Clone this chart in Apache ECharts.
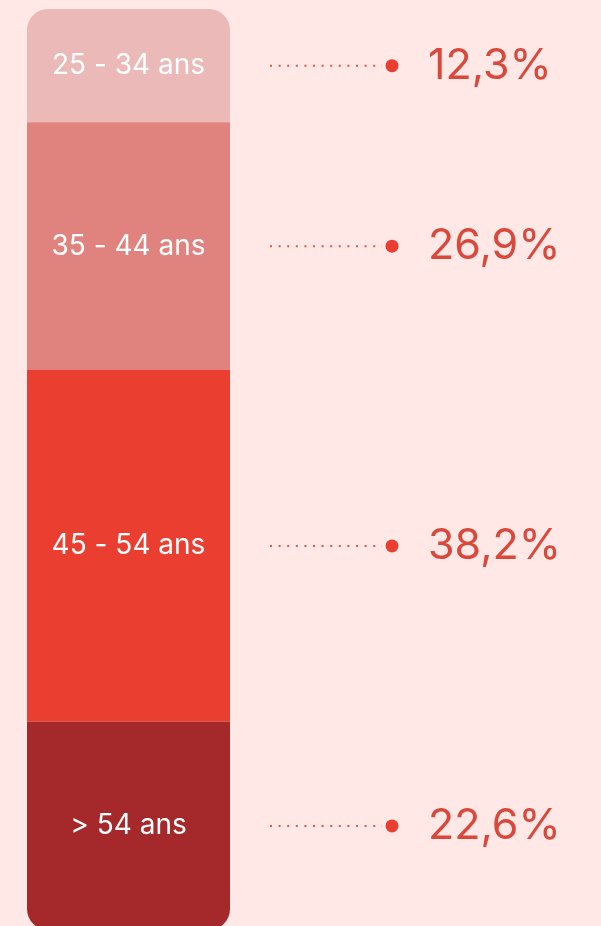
<!DOCTYPE html>
<html>
<head>
<meta charset="utf-8">
<script src="https://cdn.jsdelivr.net/npm/echarts@6/dist/echarts.min.js"></script>
<style>
html,body{margin:0;padding:0;background:#ffe8e6;}
#c{width:601px;height:926px;}
</style>
</head>
<body>
<div id="c"></div>
<script>
const categories = ['25 - 34 ans', '35 - 44 ans', '45 - 54 ans', '> 54 ans'];
const values = [12.3, 26.9, 38.2, 22.6];
const valueLabels = ['12,3%', '26,9%', '38,2%', '22,6%'];
const palette = ['#ebb9b7', '#e0827e', '#ea3e31', '#a5292b'];

const chart = echarts.init(document.getElementById('c'), null, {renderer: 'canvas'});
const R = 21;
const n = values.length;
const barSeries = categories.map((name, i) => {
  let radius = [0, 0, 0, 0];
  if (i === 0) radius = [R, R, 0, 0];
  if (i === n - 1) radius = [0, 0, R, R];
  return {
    type: 'bar',
    name: name,
    stack: 'total',
    barWidth: '100%',
    data: [values[i]],
    itemStyle: {color: palette[i], borderRadius: radius},
    label: {
      show: true,
      position: 'inside',
      formatter: name,
      color: '#ffffff',
      fontFamily: 'Inter',
      fontSize: 28,
      fontWeight: 400
    },
    silent: true
  };
});

let cum = 0;
const annData = values.map((v, i) => {
  const mid = cum + v / 2;
  cum += v;
  return [0, mid, i];
});

const annSeries = {
  type: 'custom',
  coordinateSystem: 'cartesian2d',
  clip: false,
  silent: true,
  data: annData,
  renderItem: function (params, api) {
    const y = api.coord([api.value(0), api.value(1)])[1];
    const idx = api.value(2);
    return {
      type: 'group',
      children: [
        {type: 'line', shape: {x1: 270, y1: y, x2: 382, y2: y},
         style: {stroke: '#e0574b', lineWidth: 2, lineDash: [2, 6.6]}},
        {type: 'circle', shape: {cx: 392, cy: y, r: 6.5}, style: {fill: '#ea3e31'}},
        {type: 'text', x: 428, y: y,
         style: {text: valueLabels[idx], fill: '#d9483b', fontFamily: 'Inter', fontSize: 43,
                 fontWeight: 400, verticalAlign: 'middle', align: 'left'}}
      ]
    };
  }
};

chart.setOption({
  backgroundColor: '#ffe8e6',
  animation: false,
  grid: {left: 27, width: 203, top: 9, height: 921, containLabel: false, outerBoundsMode: 'none'},
  xAxis: {type: 'category', data: [''], show: false},
  yAxis: {type: 'value', min: 0, max: 100, inverse: true, show: false},
  series: barSeries.concat([annSeries])
});
</script>
</body>
</html>
